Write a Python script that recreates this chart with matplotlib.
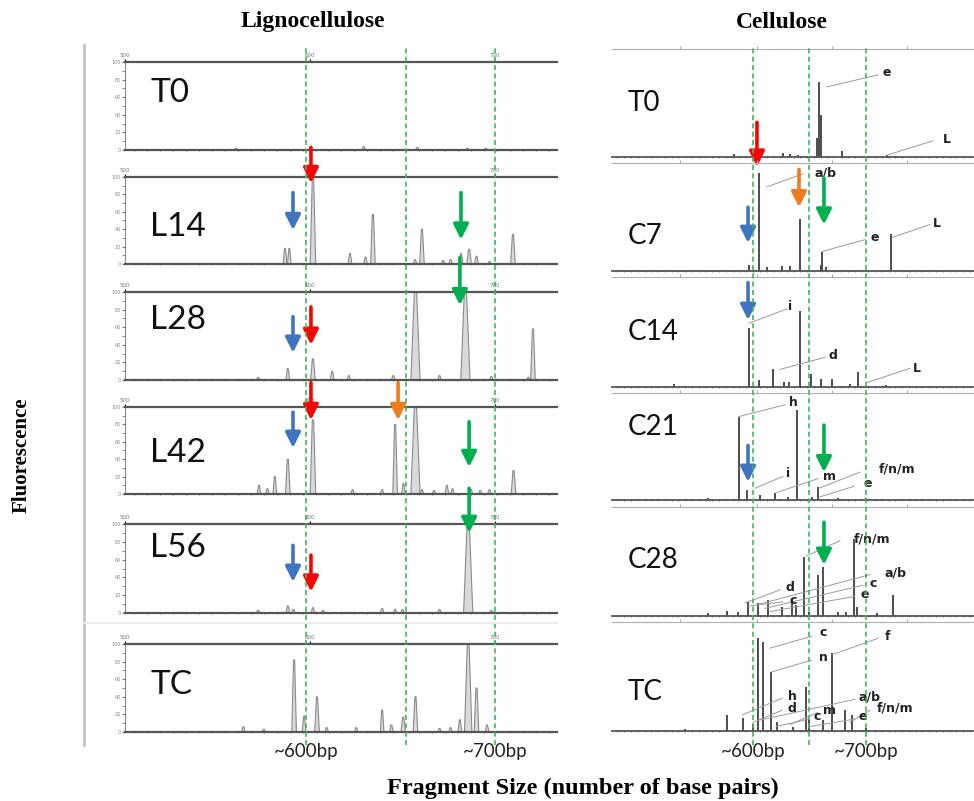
import matplotlib.pyplot as plt
from matplotlib.lines import Line2D
from matplotlib.ticker import FixedLocator

W, H = 974, 801

# ---------------- data ----------------
left_names = ['T0', 'L14', 'L28', 'L42', 'L56', 'TC']
right_names = ['T0', 'C7', 'C14', 'C21', 'C28', 'TC']

# lignocellulose peaks: (size bp, height %, peak width bp)
left_peaks = {
    'T0': [(560, 2, 2), (600, 2, 2), (629, 4, 2), (658, 3, 2), (685, 2, 2), (695, 2, 2)],
    'L14': [(586.5, 18, 2), (588.8, 18, 2), (601.6, 100, 3), (621.6, 12, 2), (630, 8, 2),
            (634, 57, 2.5), (656.8, 5, 2), (660.5, 40, 2.5), (672, 4, 2), (676, 5, 2),
            (681.6, 12, 2), (686, 17, 2.5), (690, 9, 2), (697, 3, 2), (709.7, 34, 2.5)],
    'L28': [(572, 3, 2), (588, 13, 2), (601.6, 24, 2.5), (612, 10, 2), (621, 5, 2),
            (645, 5, 2), (657, 100, 5), (670, 5, 2), (684, 100, 5), (698, 4, 2),
            (718, 3, 2), (720.5, 58, 2.5)],
    'L42': [(572.4, 10, 2), (577, 6, 2), (581, 20, 2), (588, 40, 2.5), (601.6, 85, 3),
            (623, 5, 2), (639, 5, 2), (646, 80, 2.5), (650.5, 12, 2), (657, 100, 5),
            (660.5, 5, 2), (667, 4, 2), (674, 10, 2), (677, 6, 2), (687, 5, 2),
            (692, 4, 2), (697, 5, 2), (710, 27, 2.5)],
    'L56': [(572, 3, 2), (588, 8, 2), (591, 4, 2), (601.6, 6, 2), (607, 3, 2), (639, 5, 2),
            (646, 4, 2), (650, 4, 2), (670, 4, 2), (685.5, 100, 5), (698, 3, 2)],
    'TC': [(564, 6, 2), (575, 3, 2), (591.4, 82, 2.5), (596.8, 18, 2), (603.8, 40, 2.5),
           (609, 5, 2), (625, 5, 2), (639, 25, 2), (644, 8, 2), (650.4, 17, 2.5),
           (657, 40, 2.5), (670, 4, 2), (676, 5, 2), (681, 14, 2), (685.5, 100, 4),
           (690, 50, 2.5), (695.7, 8, 2)],
}

# cellulose peaks: (size bp, height %)
right_peaks = {
    'T0': [(583, 3), (603, 2), (626.5, 4), (633, 3), (640, 2), (656.6, 18), (658.4, 69),
           (660.5, 39), (679, 6), (718.6, 2)],
    'C7': [(596.5, 6), (605, 91), (612, 4), (626, 5), (633, 5), (641.6, 48), (660, 6),
           (661, 18), (665, 4), (722, 34)],
    'C14': [(530, 3), (596.5, 54), (605, 6), (617.5, 16), (627, 5), (632, 5), (641.6, 69),
            (651, 12), (660, 7), (670, 7), (686, 3), (693, 14), (718, 2)],
    'C21': [(560, 2), (587.6, 78), (594.7, 9), (606, 5), (619.5, 7), (631, 3), (639, 84),
            (652, 3), (657.5, 12), (675, 2), (700, 2)],
    'C28': [(560, 3), (577, 5), (587, 4), (595.6, 13), (604.4, 12), (613, 15), (625.7, 8),
            (634.5, 16), (638, 10), (645, 54), (650, 4), (657.5, 38), (662, 45), (675, 4),
            (682, 4), (689.4, 71), (692, 8), (710, 3), (724, 19)],
    'TC': [(540, 2), (577, 15), (591, 12), (600, 6), (604.4, 85), (609, 82), (615.9, 54),
           (621, 8), (635, 4), (647, 40), (650, 10), (662, 10), (670, 72), (681.4, 19),
           (687.6, 15), (700, 3)],
}

# peak annotations: (text, leader start bp, %, leader end bp, %, label bp, %)
right_labels = {
    'T0': [('e', 665.5, 65, 710.6, 76, 718.6, 78), ('L', 719.5, 2, 759.3, 15, 771.7, 16)],
    'C7': [('a/b', 612.4, 78, 644.2, 90, 664.6, 91), ('e', 661, 18, 699, 29, 708, 31),
           ('L', 723, 31, 756.6, 43, 762.8, 44)],
    'C14': [('i', 596.5, 58, 630, 71, 632.7, 73), ('d', 623.9, 16, 663.7, 27, 670.8, 29),
            ('L', 700.9, 4, 739, 17, 745, 17)],
    'C21': [('h', 587.6, 78, 628.3, 89, 635.4, 91), ('i', 601.8, 11, 626.5, 22, 631, 25),
            ('m', 621, 7, 657.5, 20, 668, 21.5), ('f/n/m', 658.4, 11, 694.7, 26, 727.4, 29),
            ('e', 659.3, 3, 690, 13, 701.8, 15)],
    'C28': [('f/n/m', 647, 55, 677, 69, 705.3, 71), ('a/b', 606, 11, 703.5, 38, 725.7, 39),
            ('c', 610.6, 7, 696.5, 28, 706, 30), ('e', 615, 4, 690, 18, 699, 20),
            ('d', 593, 12, 624, 24, 632.7, 26), ('c', 595.6, 9, 626.5, 13, 635.4, 14)],
    'TC': [('c', 615, 76, 652, 87, 662, 90), ('f', 670, 70, 710.6, 85, 718.6, 87),
           ('n', 616, 54, 652, 65, 662, 67), ('h', 591, 15, 625.7, 30, 634.5, 32),
           ('a/b', 606, 10, 690, 29, 703.5, 31), ('d', 600, 8, 625.7, 19, 634.5, 21),
           ('m', 632.7, 6, 657.5, 17, 668, 19), ('f/n/m', 685.8, 8, 703.5, 19, 725.7, 21),
           ('e', 650, 4, 690, 11, 697, 13), ('c', 620, 4, 650, 11, 656.6, 13)],
}

# arrows: (colour, size bp, y start %, y end %)
left_arrows = {
    'L14': [('red', 600.5, 134, 93), ('blue', 590.8, 82, 39), ('green', 681.6, 82, 28)],
    'L28': [('blue', 590.8, 72, 31), ('red', 600.5, 83, 40), ('green', 681, 139, 85)],
    'L42': [('red', 600.5, 128, 85), ('orange', 647.6, 128, 85), ('blue', 590.8, 94, 53),
            ('green', 686, 83, 31)],
    'L56': [('blue', 590.8, 76, 35), ('red', 600.5, 65, 24), ('green', 686, 140, 90)],
}
right_arrows = {
    'T0': [('red', 603.5, 32, -9)],
    'C7': [('orange', 640.7, 94, 59), ('green', 662.8, 86, 43), ('blue', 595.6, 59, 26)],
    'C14': [('blue', 595.6, 95, 61)],
    'C21': [('blue', 595.6, 51, 17), ('green', 662.8, 70, 26)],
    'C28': [('green', 662.8, 86, 47)],
}

left_guides = [598, 652, 700]
right_guides = [600, 650, 700]
left_ticks = [500, 600, 700]
right_ticks = [535.4, 603.5, 669.9, 736.3]

# ---------------- layout (pixels) ----------------
left_geom = [(62, 150), (177, 264), (292, 380), (407, 494), (524, 613), (644, 732)]
right_geom = [(49, 157), (163, 271), (277, 387), (393, 500), (507, 616), (622, 731)]
left_lbl_y = [0.65, 0.42, 0.68, 0.47, 0.73, 0.53]
right_lbl_y = [0.50, 0.32, 0.50, 0.68, 0.51, 0.36]
LX0, LX1, LXLIM = 125, 557, (500, 733.5)
RX0, RX1, RXLIM = 612, 974, (475.2, 795.6)

arrow_col = {'red': '#ff0000', 'blue': '#3f75c0', 'green': '#00b050', 'orange': '#ee7d22'}
guide_col = '#3cb85a'
label_font = ['Lato', 'DejaVu Sans']
serif = ['Liberation Serif', 'DejaVu Serif']

fig = plt.figure(figsize=(W / 100, H / 100), dpi=100)


def add_px_axes(x0, x1, top, base):
    return fig.add_axes([x0 / W, 1 - base / H, (x1 - x0) / W, (base - top) / H])


def draw_arrows(ax, arrows):
    for c, x, y0, y1 in arrows:
        ax.annotate('', xy=(x, y1), xytext=(x, y0),
                    arrowprops=dict(arrowstyle='-|>,head_width=0.45,head_length=0.9',
                                    color=arrow_col[c], lw=2.6, shrinkA=0, shrinkB=0),
                    annotation_clip=False, zorder=6)


# ---------------- lignocellulose column ----------------
for name, (top, base), ly in zip(left_names, left_geom, left_lbl_y):
    ax = add_px_axes(LX0, LX1, top, base)
    ax.patch.set_visible(False)
    ax.set_xlim(*LXLIM)
    ax.set_ylim(0, 100)
    for p, h, w in left_peaks[name]:
        xs = [p - w / 2, p - w * 0.12, p + w * 0.12, p + w / 2]
        ax.fill(xs, [0, h, h, 0], facecolor='#dadada', edgecolor='#8a8a8a', lw=0.8, zorder=2)
    for s in ['top', 'bottom']:
        ax.spines[s].set_color('#555555')
        ax.spines[s].set_linewidth(1.6)
    ax.spines['right'].set_visible(False)
    ax.spines['left'].set_color('#888888')
    ax.spines['left'].set_linewidth(0.8)
    ax.xaxis.set_major_locator(FixedLocator(left_ticks))
    ax.xaxis.set_minor_locator(FixedLocator(list(range(505, 735, 7))))
    ax.tick_params(axis='x', which='major', top=True, bottom=False, labeltop=True,
                   labelbottom=False, labelsize=4, labelcolor='#777777', length=2, pad=1)
    ax.tick_params(axis='x', which='minor', top=False, bottom=True, length=1.8,
                   direction='inout', color='#666666')
    ax.set_yticks([0, 20, 40, 60, 80, 100])
    ax.set_yticks(range(10, 100, 20), minor=True)
    ax.tick_params(axis='y', which='both', labelsize=3.5, labelcolor='#888888',
                   length=2, color='#777777', pad=1)
    ax.text(0.058, ly, name, transform=ax.transAxes, ha='left', va='center',
            fontsize=24, family=label_font, color='#111111')
    draw_arrows(ax, left_arrows.get(name, []))

# ---------------- cellulose column ----------------
for name, (top, base), ly in zip(right_names, right_geom, right_lbl_y):
    ax = add_px_axes(RX0, RX1, top, base)
    ax.patch.set_visible(False)
    ax.set_xlim(*RXLIM)
    ax.set_ylim(0, 100)
    xs = [p for p, h in right_peaks[name]]
    hs = [h for p, h in right_peaks[name]]
    ax.vlines(xs, 0, hs, color='#4d4d4d', lw=1.4, zorder=2)
    for txt, x0, y0, x1, y1, tx, ty in right_labels.get(name, []):
        ax.plot([x0, x1], [y0, y1], color='#9a9a9a', lw=0.7, zorder=3, clip_on=False)
        ax.text(tx, ty, txt, ha='center', va='center', fontsize=9, fontweight='bold',
                color='#222222', zorder=4, clip_on=False)
    ax.spines['top'].set_color('#b0b0b0')
    ax.spines['top'].set_linewidth(0.8)
    ax.spines['bottom'].set_color('#555555')
    ax.spines['bottom'].set_linewidth(1.3)
    ax.spines['left'].set_visible(False)
    ax.spines['right'].set_visible(False)
    ax.set_yticks([])
    ax.xaxis.set_major_locator(FixedLocator(right_ticks))
    ax.xaxis.set_minor_locator(FixedLocator(list(range(480, 795, 6))))
    ax.tick_params(axis='x', which='major', top=True, bottom=False, labeltop=False,
                   labelbottom=False, length=2, color='#aaaaaa')
    ax.tick_params(axis='x', which='minor', top=False, bottom=True, length=1.5,
                   direction='inout', color='#666666')
    ax.text(0.044, ly, name, transform=ax.transAxes, ha='left', va='center',
            fontsize=20, family=label_font, color='#111111')
    draw_arrows(ax, right_arrows.get(name, []))

# ---------------- dashed guide lines ----------------
gl = add_px_axes(LX0, LX1, 45, 745)
gl.set_xlim(*LXLIM)
gl.set_ylim(0, 1)
gl.axis('off')
gl.vlines(left_guides, 0, 1, colors=guide_col, linestyles=(0, (3, 2)), lw=1.2)

gr = add_px_axes(RX0, RX1, 45, 745)
gr.set_xlim(*RXLIM)
gr.set_ylim(0, 1)
gr.axis('off')
gr.vlines(right_guides, 0, 1, colors=guide_col, linestyles=(0, (3, 2)), lw=1.2)

for ax_, g in [(gl, left_guides), (gr, right_guides)]:
    ax_.text(g[0], -0.01, '~600bp', ha='center', va='center', fontsize=13.5,
             family=label_font, color='#222222', clip_on=False)
    ax_.text(g[-1], -0.01, '~700bp', ha='center', va='center', fontsize=13.5,
             family=label_font, color='#222222', clip_on=False)

# ---------------- frame and titles ----------------
fig.add_artist(Line2D([84 / W, 84 / W], [1 - 45 / H, 1 - 745 / H],
                      transform=fig.transFigure, color='#c4c4c4', lw=2))
fig.add_artist(Line2D([84 / W, 557 / W], [1 - 623 / H, 1 - 623 / H],
                      transform=fig.transFigure, color='#ebebeb', lw=1.5))

fig.text(313 / W, 1 - 22 / H, 'Lignocellulose', ha='center', va='center',
         fontsize=17, fontweight='bold', family=serif)
fig.text(782 / W, 1 - 22 / H, 'Cellulose', ha='center', va='center',
         fontsize=17, fontweight='bold', family=serif)
fig.text(583 / W, 1 - 788 / H, 'Fragment Size (number of base pairs)', ha='center',
         va='center', fontsize=17.5, fontweight='bold', family=serif)
fig.text(22 / W, 1 - 455 / H, 'Fluorescence', ha='center', va='center', rotation=90,
         fontsize=15, fontweight='bold', family=serif)

fig.savefig('out.png', dpi=100, facecolor='white')
